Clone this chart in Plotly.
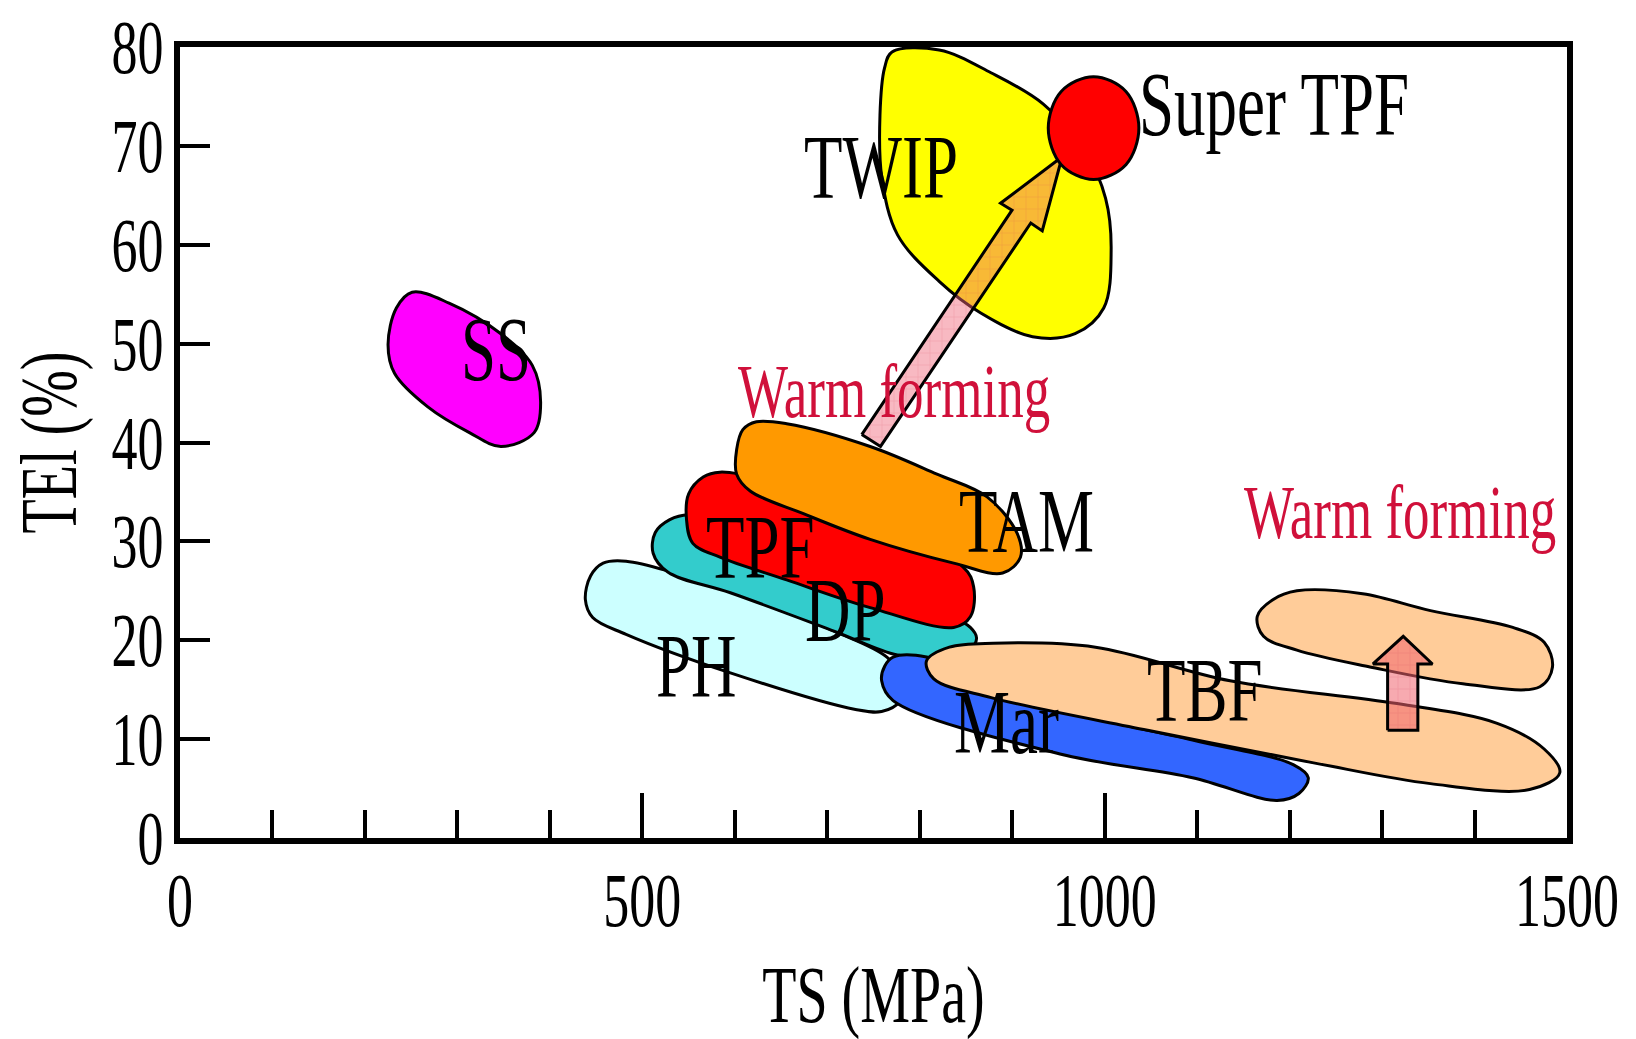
import plotly.graph_objects as go

# ---------------- data (TS in MPa, TEl in %) ----------------
# Region outlines (closed curves), listed clockwise
ss_ts = [251, 291, 347, 381, 390, 383, 347, 313, 268, 232, 225, 234]
ss_el = [55.2, 54.1, 51.0, 47.8, 44.1, 41.0, 39.6, 41.0, 43.6, 47.0, 49.9, 53.6]

twip_ts = [770, 821, 877, 934, 979, 1001, 1007, 999, 968, 922, 866, 821, 776, 759, 757, 762]
twip_el = [79.5, 79.7, 77.4, 74.2, 69.4, 64.7, 59.4, 53.6, 51.0, 50.7, 53.1, 56.3, 61.0, 66.8, 73.1, 77.9]

super_ts = [988, 1023, 1037, 1023, 988, 953, 939, 953]
super_el = [77.0, 75.5, 71.8, 68.1, 66.6, 68.1, 71.8, 75.5]

ph_ts = [457.6, 482.4, 602.0, 708.0, 764.5, 781.4, 778.0, 758.8, 730.6, 595.2, 482.4, 446.3, 438.4, 444.0]
ph_el = [27.8, 28.0, 24.8, 20.9, 18.3, 16.1, 13.8, 12.8, 13.0, 16.7, 20.6, 22.3, 24.1, 26.5]

dp_ts = [529.7, 550.1, 595.2, 708.0, 820.9, 854.7, 861.5, 852.5, 820.9, 775.8, 708.0, 595.2, 527.5, 511.7, 514.0]
dp_el = [32.2, 32.7, 32.0, 27.8, 23.0, 21.3, 20.2, 18.8, 18.3, 18.5, 20.9, 24.8, 26.9, 28.8, 30.9]

tpf_ts = [565.8, 583.9, 629.0, 847.0, 858.3, 854.9, 836.7, 746.4, 656.1, 583.9, 554.6, 547.8, 550.1]
tpf_el = [36.5, 37.0, 36.2, 27.4, 25.4, 22.4, 21.3, 23.3, 26.1, 28.4, 29.8, 32.2, 34.8]

tam_ts = [608.7, 623.4, 656.1, 746.4, 818.6, 872.8, 905.4, 908.9, 889.7, 836.7, 746.4, 674.2, 616.6, 602.0, 602.0]
tam_el = [41.3, 42.1, 41.9, 39.6, 36.8, 34.5, 30.8, 28.4, 26.8, 27.8, 30.2, 32.8, 35.1, 36.8, 39.3]

mar_ts = [771.2, 807.3, 915.6, 1095.0, 1204.4, 1220.2, 1210.1, 1186.4, 1095.0, 951.7, 771.2, 758.8, 762.2]
mar_el = [18.3, 18.3, 13.9, 9.9, 7.4, 6.1, 4.5, 3.8, 6.1, 8.5, 13.9, 15.9, 17.4]

tbf_ts = [807.3, 832.1, 879.5, 990.1, 1135.6, 1316.2, 1424.5, 1475.3, 1492.2, 1459.5, 1352.3, 1226.0, 1046.5, 877.3, 815.2]
tbf_el = [17.9, 19.3, 19.7, 19.3, 15.9, 13.6, 11.6, 9.0, 6.6, 4.9, 5.5, 7.6, 10.9, 14.2, 16.1]

tbfw_ts = [1165.0, 1181.9, 1207.9, 1279.0, 1352.3, 1441.4, 1475.3, 1484.3, 1470.7, 1387.3, 1286.9, 1207.9, 1171.8]
tbfw_el = [22.4, 24.1, 25.0, 24.7, 23.0, 21.3, 19.8, 17.3, 15.3, 15.6, 17.3, 19.0, 20.4]

# Arrows (outline vertices)
arrow1_ts = [737.3, 757.6, 920.1, 932.5, 954.0, 887.4, 899.8]
arrow1_el = [40.8, 39.6, 62.2, 61.4, 68.9, 64.2, 63.5]
arrow2_ts = [1306.0, 1306.0, 1290.2, 1322.9, 1354.5, 1338.7, 1338.7]
arrow2_el = [10.9, 17.6, 17.6, 20.4, 17.6, 17.6, 10.9]

# Labels
label_text = ["TWIP", "SS", "TAM", "TPF", "DP", "PH", "Mar", "TBF"]
label_ts = [758, 342, 916, 628, 720, 559, 894, 1109]
label_el = [67.8, 49.4, 32.0, 29.3, 23.0, 17.3, 11.6, 14.9]

super_label = "Super TPF"
super_label_pos = (1035, 74.1)
warm_text = ["Warm forming", "Warm forming"]
warm_ts = [772, 1319]
warm_el = [45.2, 33.0]

x_ticks = [0, 500, 1000, 1500]
y_ticks = [0, 10, 20, 30, 40, 50, 60, 70, 80]

# ---------------- figure ----------------
FONT = "Liberation Serif"
fig = go.Figure()


def region(xs, ys, color, smooth=True, pattern=None):
    kw = {}
    if pattern is not None:
        kw["fillpattern"] = pattern
    fig.add_trace(go.Scatter(
        x=list(xs) + [xs[0]], y=list(ys) + [ys[0]],
        mode="lines", fill="toself", fillcolor=color,
        line=dict(color="black", width=3, shape="spline" if smooth else "linear",
                  smoothing=1.0),
        hoverinfo="skip", showlegend=False, **kw))


region(ss_ts, ss_el, "#FF00FF")
region(twip_ts, twip_el, "#FFFF00")
region(ph_ts, ph_el, "#CCFFFF")
region(dp_ts, dp_el, "#33CCCC")
region(tpf_ts, tpf_el, "#FF0000")
region(tam_ts, tam_el, "#FF9900")
region(mar_ts, mar_el, "#3366FF")
region(tbf_ts, tbf_el, "#FFCC99")
region(tbfw_ts, tbfw_el, "#FFCC99")
region(arrow1_ts, arrow1_el, "rgba(240,100,120,0.45)", smooth=False,
       pattern=dict(shape="+", size=12, solidity=0.12,
                    fgcolor="rgba(200,60,80,0.35)", bgcolor="rgba(240,100,120,0.45)"))
region(super_ts, super_el, "#FF0000")
region(arrow2_ts, arrow2_el, "rgba(240,100,110,0.55)", smooth=False,
       pattern=dict(shape="+", size=12, solidity=0.12,
                    fgcolor="rgba(200,60,80,0.35)", bgcolor="rgba(240,100,110,0.55)"))

for t, x, y in zip(label_text, label_ts, label_el):
    fig.add_annotation(x=x, y=y, text=t, showarrow=False,
                       font=dict(family=FONT, size=63, color="black"))
fig.add_annotation(x=super_label_pos[0], y=super_label_pos[1], text=super_label,
                   showarrow=False, xanchor="left",
                   font=dict(family=FONT, size=63, color="black"))
for t, x, y in zip(warm_text, warm_ts, warm_el):
    fig.add_annotation(x=x, y=y, text=t, showarrow=False,
                       font=dict(family=FONT, size=53, color="#D0103A"))

fig.update_layout(
    width=1636, height=1039,
    margin=dict(l=180, r=69, t=47, b=201),
    paper_bgcolor="white", plot_bgcolor="white",
    showlegend=False, hovermode=False,
    font=dict(family=FONT, color="black"),
)
fig.update_xaxes(
    range=[0, 1500], tickvals=x_ticks, ticktext=[str(v) for v in x_ticks],
    ticks="inside", ticklen=45, tickwidth=4, tickcolor="black",
    minor=dict(dtick=100, ticks="inside", ticklen=28, tickwidth=4, tickcolor="black"),
    showline=True, linewidth=6, linecolor="black", mirror=True,
    showgrid=False, zeroline=False,
    tickfont=dict(family=FONT, size=52, color="black"), ticklabelstandoff=12,
    title=dict(text="TS (MPa)", font=dict(family=FONT, size=56, color="black"), standoff=48),
)
fig.update_yaxes(
    range=[0, 80], tickvals=y_ticks, ticktext=[str(v) for v in y_ticks],
    ticks="inside", ticklen=30, tickwidth=4, tickcolor="black",
    showline=True, linewidth=6, linecolor="black", mirror=True,
    showgrid=False, zeroline=False,
    tickfont=dict(family=FONT, size=52, color="black"),
    title=dict(text="TEl (%)", font=dict(family=FONT, size=56, color="black"), standoff=27),
)

# The reference typeface is drawn tall and narrow: stretch every text vertically
# about its own centre (the text stays real SVG text).
stretch_js = """
var gd = document.getElementById('{plot_id}');
var S = 1.45;
gd.querySelectorAll('svg text').forEach(function(el){
  var t = el.textContent;
  if (!t || !t.trim()) return;
  var bb = el.getBBox();
  var cx = bb.x + bb.width / 2, cy = bb.y + bb.height / 2;
  var tr = el.getAttribute('transform') || '';
  el.setAttribute('transform', tr + ' translate(' + cx + ',' + cy + ') scale(1,' + S + ') translate(' + (-cx) + ',' + (-cy) + ')');
});
"""

fig.write_html("out.html", post_script=stretch_js)
